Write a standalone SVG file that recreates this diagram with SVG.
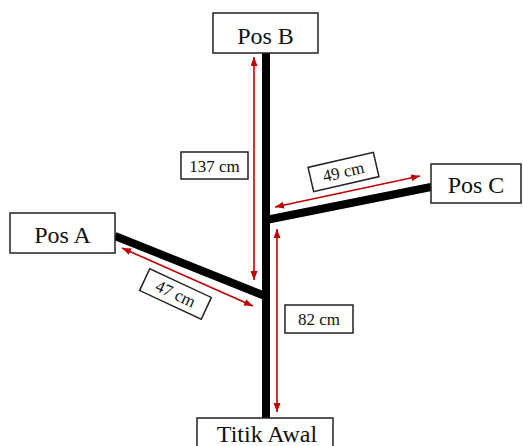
<svg xmlns="http://www.w3.org/2000/svg" width="523" height="446" viewBox="0 0 523 446">
<defs>
<marker id="ah" markerWidth="9" markerHeight="7" refX="9" refY="3.5" orient="auto-start-reverse" markerUnits="userSpaceOnUse">
<path d="M0,0 L9,3.5 L0,7 z" fill="#C00000"/>
</marker>
<style>
.box{fill:#fff;stroke:#222;stroke-width:1.5}
.lbl{font-family:"Liberation Serif","Times New Roman",serif;font-size:24px;fill:#111;text-anchor:middle}
.sm{font-family:"Liberation Serif","Times New Roman",serif;font-size:17px;fill:#111;text-anchor:middle}
.path{stroke:#000;stroke-width:8;fill:none}
.dim{stroke:#C00000;stroke-width:1.6;fill:none;marker-start:url(#ah);marker-end:url(#ah)}
</style>
</defs>
<rect width="523" height="446" fill="#fff"/>
<g id="connectors">
<line class="path" x1="266" y1="53" x2="266" y2="418"/>
<line class="path" x1="115" y1="236" x2="265" y2="296"/>
<line class="path" x1="266" y1="220" x2="431" y2="187"/>
<line class="dim" x1="254" y1="57" x2="254" y2="280"/>
<line class="dim" x1="275" y1="207" x2="420" y2="176"/>
<line class="dim" x1="122" y1="248" x2="253" y2="306"/>
<line class="dim" x1="277" y1="229" x2="277" y2="412"/>
</g>
<g id="posB">
<rect class="box" x="213" y="13" width="105" height="40"/>
<text class="lbl" x="265.5" y="44">Pos B</text>
</g>
<g id="posA">
<rect class="box" x="10" y="213" width="105" height="40"/>
<text class="lbl" x="62.5" y="243">Pos A</text>
</g>
<g id="posC">
<rect class="box" x="431" y="164" width="90" height="39"/>
<text class="lbl" x="476" y="193">Pos C</text>
</g>
<g id="titikAwal">
<rect class="box" x="197" y="418" width="136" height="40"/>
<text class="lbl" x="267" y="442">Titik Awal</text>
</g>
<g id="label137">
<rect class="box" x="181" y="152" width="67" height="27"/>
<text class="sm" x="214.5" y="171.5">137 cm</text>
</g>
<g id="label82">
<rect class="box" x="285" y="305" width="68" height="28"/>
<text class="sm" x="319" y="324.5">82 cm</text>
</g>
<g id="label49" transform="translate(343.5,172) rotate(-13)">
<rect class="box" x="-33.5" y="-12.5" width="67" height="25"/>
<text class="sm" x="0" y="5.5">49 cm</text>
</g>
<g id="label47" transform="translate(175.5,294) rotate(25)">
<rect class="box" x="-34" y="-12" width="68" height="24"/>
<text class="sm" x="0" y="5.5">47 cm</text>
</g>
</svg>
